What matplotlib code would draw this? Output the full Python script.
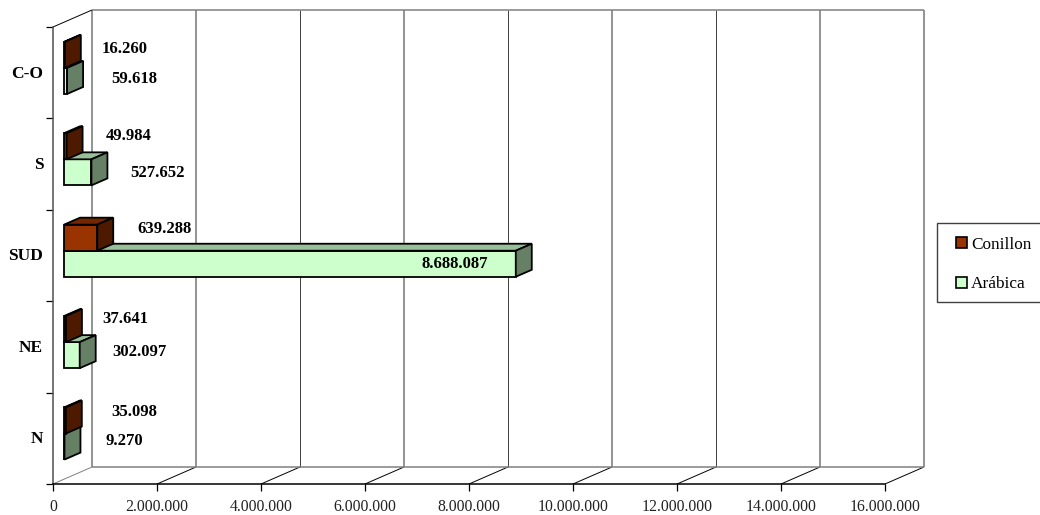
import matplotlib
matplotlib.use("Agg")
import matplotlib.pyplot as plt
from matplotlib.patches import Patch, Polygon, Rectangle
from matplotlib.transforms import ScaledTranslation

categories = ["N", "NE", "SUD", "S", "C-O"]
conillon = [35098, 37641, 639288, 49984, 16260]
arabica = [9270, 302097, 8688087, 527652, 59618]
conillon_labels = ["35.098", "37.641", "639.288", "49.984", "16.260"]
arabica_labels = ["9.270", "302.097", "8.688.087", "527.652", "59.618"]
x_ticks = [0, 2000000, 4000000, 6000000, 8000000, 10000000, 12000000, 14000000, 16000000]
x_tick_labels = ["0", "2.000.000", "4.000.000", "6.000.000", "8.000.000",
                 "10.000.000", "12.000.000", "14.000.000", "16.000.000"]

# hand placed labels in the original, offset in pixels from value/category
conillon_offsets = [(79, 26), (70.5, 28), (78, 26.5), (73.5, 28), (70.5, 24)]
arabica_offsets = [(70.5, -3), (70.5, -5), (-50.5, -8.5), (77.5, -9), (78.5, -6.5)]

XMAX = 16000000
DEPTH_X = 750000  # wall depth in x units
DEPTH_Y = 0.186   # wall depth in y units
BAR_Z0 = 0.282
BAR_Z = 0.41
BAR_H = 0.285

GRAY = "#808080"
plt.rcParams["font.family"] = ["Liberation Serif", "DejaVu Serif"]

fig = plt.figure(figsize=(10.4, 5.15), dpi=100)
ax = fig.add_axes([53 / 1040, 1 - 484 / 515, 832 / 1040, 457 / 515])
ax.set_xlim(0, XMAX)
ax.set_ylim(-0.5, 4.5)


def wall_line(x0, y0, x1, y1, color=GRAY, lw=1.1):
    ax.plot([x0, x1], [y0, y1], color=color, lw=lw, clip_on=False, zorder=1,
            solid_capstyle="butt")


# back wall and floor
for i, t in enumerate(x_ticks):
    thin = i % 2 == 0 and 0 < i < 8
    wall_line(t + DEPTH_X, -0.5 + DEPTH_Y, t + DEPTH_X, 4.5 + DEPTH_Y,
              color="#404040" if thin else GRAY, lw=0.7 if thin else 1.2)
    wall_line(t, -0.5, t + DEPTH_X, -0.5 + DEPTH_Y,
              color="black" if i > 0 else GRAY, lw=0.7)
wall_line(DEPTH_X, -0.5 + DEPTH_Y, XMAX + DEPTH_X, -0.5 + DEPTH_Y)
wall_line(DEPTH_X, 4.5 + DEPTH_Y, XMAX + DEPTH_X, 4.5 + DEPTH_Y)
wall_line(0, 4.5, DEPTH_X, 4.5 + DEPTH_Y, color="black", lw=0.7)

bar_left = BAR_Z0 * DEPTH_X
bar_shift = BAR_Z0 * DEPTH_Y
dx = BAR_Z * DEPTH_X
dy = BAR_Z * DEPTH_Y


def bars_3d(values, base, front, top, side):
    ax.barh(base, values, height=BAR_H, left=bar_left, align="edge", color=front,
            edgecolor="black", linewidth=1.3, zorder=3, clip_on=False)
    for v, b in zip(values, base):
        x1 = bar_left + v
        yt = b + BAR_H
        ax.add_patch(Polygon([(bar_left, yt), (x1, yt), (x1 + dx, yt + dy), (bar_left + dx, yt + dy)],
                             facecolor=top, edgecolor="black", lw=1.3, zorder=3, clip_on=False))
        ax.add_patch(Polygon([(x1, b), (x1 + dx, b + dy), (x1 + dx, yt + dy), (x1, yt)],
                             facecolor=side, edgecolor="black", lw=1.3, zorder=3, clip_on=False))


pos = range(len(categories))
bars_3d(arabica, [p + bar_shift - BAR_H for p in pos], "#ccffcc", "#99bf99", "#668066")
bars_3d(conillon, [p + bar_shift for p in pos], "#993300", "#732600", "#4d1a00")

for p in pos:
    ax.annotate(conillon_labels[p], (conillon[p], p), xytext=conillon_offsets[p],
                textcoords="offset pixels", ha="center", va="center",
                fontsize=12, fontweight="bold", zorder=5, annotation_clip=False)
    ax.annotate(arabica_labels[p], (arabica[p], p), xytext=arabica_offsets[p],
                textcoords="offset pixels", ha="center", va="center",
                fontsize=12, fontweight="bold", zorder=5, annotation_clip=False)

ax.set_xticks(x_ticks)
ax.set_xticklabels(x_tick_labels, fontsize=11.3, color="#222222")
ax.tick_params(axis="x", length=5, width=0.9, pad=6)
ax.set_yticks(list(pos))
ax.set_yticklabels(categories, fontsize=12.5, fontweight="bold")
ax.tick_params(axis="y", which="major", length=0, pad=7)
ax.set_yticks([p - 0.5 for p in range(len(categories) + 1)], minor=True)
ax.tick_params(axis="y", which="minor", length=5, width=0.9)
up_1px = ScaledTranslation(0, 1 / 100, fig.dpi_scale_trans)
for lab in ax.get_yticklabels():
    lab.set_transform(lab.get_transform() + up_1px)

ax.spines["top"].set_visible(False)
ax.spines["right"].set_visible(False)
ax.spines["left"].set_color("#505050")
ax.spines["left"].set_linewidth(1.1)
ax.spines["bottom"].set_linewidth(1.1)
ax.patch.set_alpha(0)

fig.add_artist(Rectangle((936.5 / 1040, 1 - 302 / 515), 110 / 1040, 79 / 515,
                         transform=fig.transFigure, facecolor="white",
                         edgecolor="#404040", lw=1.0))
handles = [Patch(facecolor="#993300", edgecolor="black", linewidth=1.2),
           Patch(facecolor="#ccffcc", edgecolor="black", linewidth=1.2)]
leg = fig.legend(handles, ["Conillon", "Arábica"], loc="center left",
                 bbox_to_anchor=(956 / 1040, 1 - 264.5 / 515), fontsize=12.4,
                 frameon=False, handlelength=0.66, handleheight=0.66, handletextpad=0.22,
                 labelspacing=1.38, borderpad=0, borderaxespad=0)
leg.set_zorder(5)

fig.savefig("out.png", dpi=100)
